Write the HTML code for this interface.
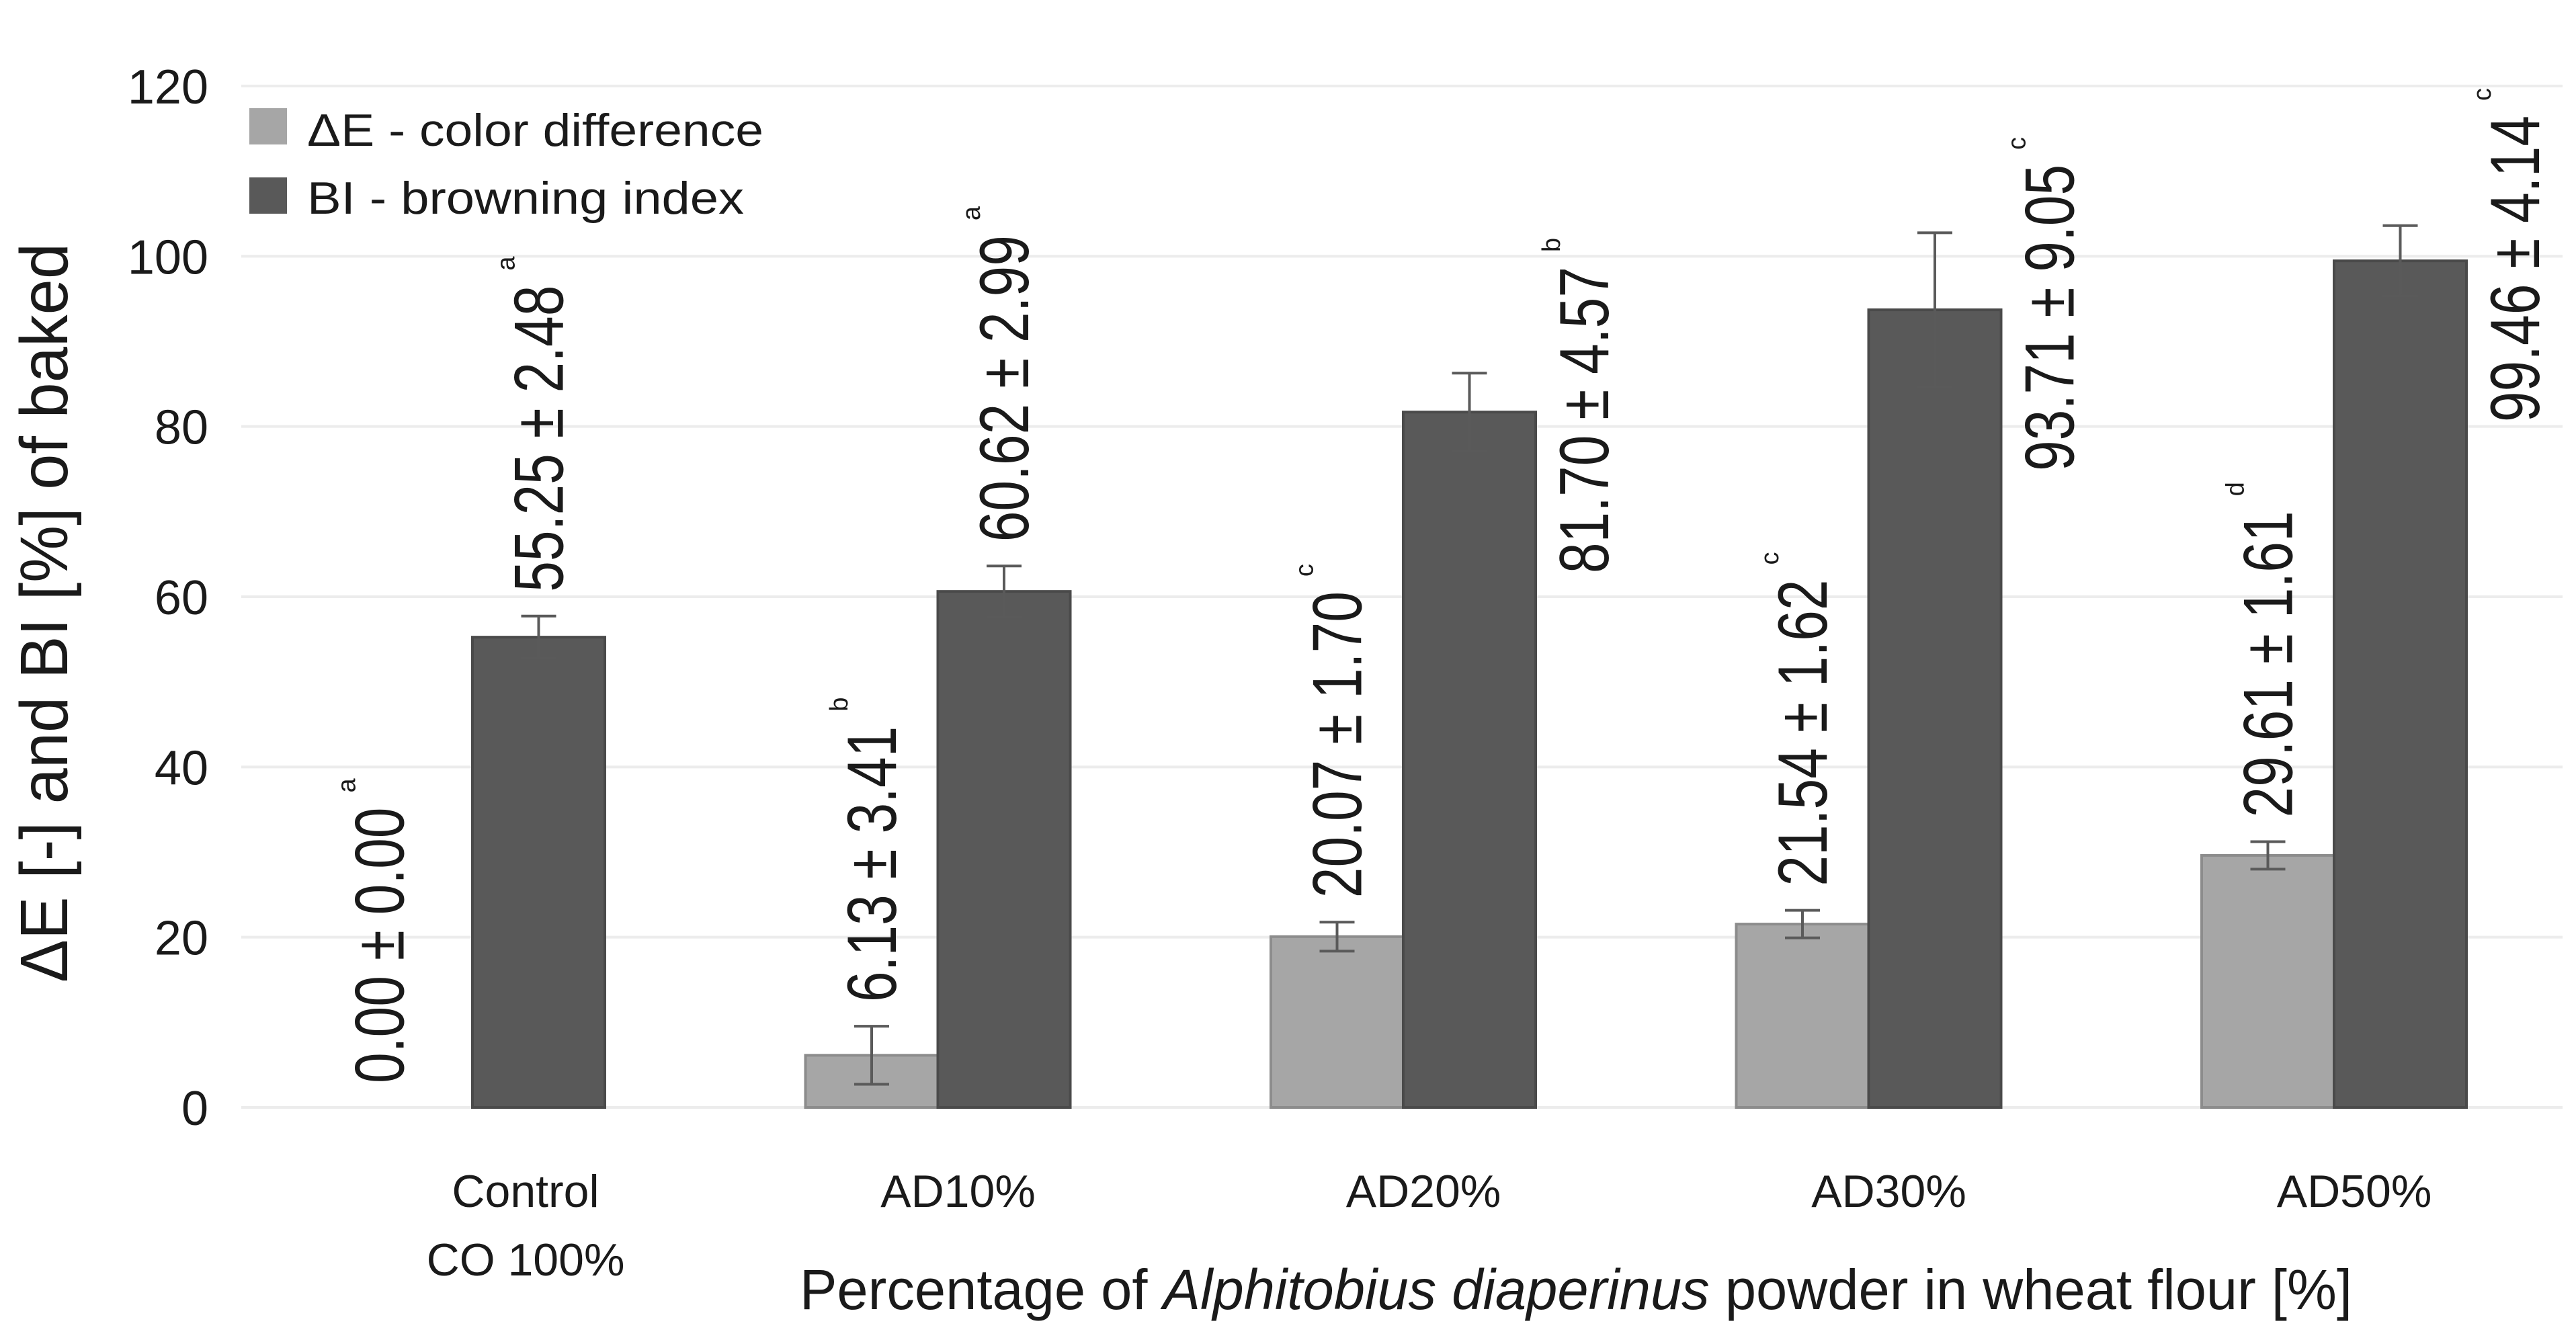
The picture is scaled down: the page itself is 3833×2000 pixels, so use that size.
<!DOCTYPE html>
<html><head><meta charset="utf-8"><style>
html,body{margin:0;padding:0;background:#fff;}
svg{display:block;}
text{font-family:"Liberation Sans",sans-serif;fill:#1a1a1a;}
</style></head><body>
<svg id="chart" width="3833" height="2000" viewBox="0 0 3833 2000" xmlns="http://www.w3.org/2000/svg">
<rect x="0" y="0" width="3833" height="2000" fill="#fff"/>
<g id="grid"></g>
<g id="yticks"></g>
<g id="bars"></g>
<g id="labels"></g>
<g id="xticks"></g>
<text transform="translate(100,912) rotate(-90)" text-anchor="middle" font-size="100" textLength="1100" lengthAdjust="spacingAndGlyphs">ΔE [-] and BI [%] of baked</text>
<text x="2345" y="1948" text-anchor="middle" font-size="84" textLength="2310" lengthAdjust="spacingAndGlyphs">Percentage of <tspan font-style="italic">Alphitobius diaperinus</tspan> powder in wheat flour [%]</text>
<g>
<rect x="371" y="161" width="56" height="54" fill="#a6a6a6"/>
<text x="457" y="217" font-size="68" textLength="679" lengthAdjust="spacingAndGlyphs">ΔE - color difference</text>
<rect x="371" y="264" width="56" height="54" fill="#595959"/>
<text x="457" y="318" font-size="68" textLength="650" lengthAdjust="spacingAndGlyphs">BI - browning index</text>
</g>
</svg>
<script>
const categories = ["Control|CO 100%", "AD10%", "AD20%", "AD30%", "AD50%"];
const deValues = [0.00, 6.13, 20.07, 21.54, 29.61];
const deErrors = [0.00, 3.41, 1.70, 1.62, 1.61];
const deLetters = ["a", "b", "c", "c", "d"];
const biValues = [55.25, 60.62, 81.70, 93.71, 99.46];
const biErrors = [2.48, 2.99, 4.57, 9.05, 4.14];
const biLetters = ["a", "a", "b", "c", "c"];
const yTicks = [0, 20, 40, 60, 80, 100, 120];

const NS = "http://www.w3.org/2000/svg";
const y0 = 1648, yPerUnit = (1648 - 128) / 120;
const yScale = v => y0 - v * yPerUnit;
const groupCenter = i => 703 + i * 692.5;
const barW = 197;
function mk(tag, attrs, parent) {
  const e = document.createElementNS(NS, tag);
  for (const k in attrs) e.setAttribute(k, attrs[k]);
  parent.appendChild(e);
  return e;
}
const grid = document.getElementById('grid');
const yt = document.getElementById('yticks');
yTicks.forEach(t => {
  const l = mk('line', {x1: 359, x2: 3813, y1: yScale(t), y2: yScale(t), stroke: '#ececec', 'stroke-width': 4}, grid);
  
  
  const tx = mk('text', {x: 310, y: yScale(t) + 26, 'text-anchor': 'end', 'font-size': 72}, yt);
  tx.textContent = t;
  
  
});
const bars = document.getElementById('bars');
const labels = document.getElementById('labels');
const xt = document.getElementById('xticks');
function errBar(cx, v, e) {
  const g = mk('g', {stroke: '#5a5a5a', 'stroke-width': 4}, bars);
  
  
  mk('line', {x1: cx, x2: cx, y1: yScale(v - e), y2: yScale(v + e)}, g);
  mk('line', {x1: cx - 26, x2: cx + 26, y1: yScale(v + e), y2: yScale(v + e)}, g);
  mk('line', {x1: cx - 26, x2: cx + 26, y1: yScale(v - e), y2: yScale(v - e)}, g);
}
function label(cx, bottom, txt, letter) {
  const g = mk('g', {transform: `translate(${cx},${bottom}) rotate(-90)`}, labels);
  
  
  const t = mk('text', {x: 0, y: 0, 'font-size': 104, 'dominant-baseline': 'central', transform: 'scale(0.79,1)'}, g);
  t.textContent = txt;
  const len = t.getComputedTextLength() * 0.79;
  const s = mk('text', {x: len + 22, y: -36, 'font-size': 38}, g);
  s.textContent = letter;
}
categories.forEach((c, i) => {
  const gc = groupCenter(i);
  const deX = gc - barW, biX = gc;
  if (deValues[i] > 0) {
    const r = mk('rect', {x: deX, y: yScale(deValues[i]), width: barW, height: y0 - yScale(deValues[i]), fill: '#a6a6a6', stroke: '#8c8c8c', 'stroke-width': 4}, bars);
    
    
  }
  const r2 = mk('rect', {x: biX, y: yScale(biValues[i]), width: barW, height: y0 - yScale(biValues[i]), fill: '#595959', stroke: '#4a4a4a', 'stroke-width': 4}, bars);
  
  
  if (deValues[i] > 0) errBar(deX + barW / 2, deValues[i], deErrors[i]);
  errBar(biX + barW / 2, biValues[i], biErrors[i]);
  label(deX + barW / 2 - (i === 0 ? 40 : 0), yScale(deValues[i] + deErrors[i]) - 36,
        deValues[i].toFixed(2) + ' ± ' + deErrors[i].toFixed(2), deLetters[i]);
  if (biValues[i] > 70) {
    label(biX + barW + 72, yScale(biValues[i]) + 240, biValues[i].toFixed(2) + ' ± ' + biErrors[i].toFixed(2), biLetters[i]);
  } else {
    label(biX + barW / 2, yScale(biValues[i] + biErrors[i]) - 36, biValues[i].toFixed(2) + ' ± ' + biErrors[i].toFixed(2), biLetters[i]);
  }
  const parts = c.split('|');
  parts.forEach((p, k) => {
    const t = mk('text', {x: i === 0 ? 782 : gc + 30, y: 1796 + k * 102, 'text-anchor': 'middle', 'font-size': 68}, xt);
    t.textContent = p;
    
    
  });
});
</script>
</body></html>
